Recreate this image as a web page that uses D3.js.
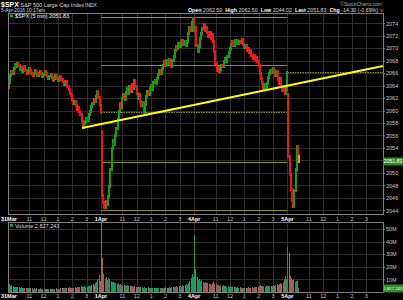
<!DOCTYPE html>
<html>
<head>
<meta charset="utf-8">
<script src="https://cdn.jsdelivr.net/npm/d3@7"></script>
<style>
  html, body { margin: 0; padding: 0; background: #000; }
  svg { display: block; font-family: "Liberation Sans", Arial, sans-serif; }
</style>
</head>
<body>
<div id="chart"></div>
<script>
// ---- data ----
var dayLabels = ["31Mar", "1Apr", "4Apr", "5Apr"];
var hourLabels = ["11", "12", "1", "2", "3"];
var dayOpens = [2063.77, 2056.62, 2073.19, 2062.50];

// 5 min closes, one array per session
var closeMar31 = [2064.5, 2065.6, 2066.3, 2066.0, 2066.8, 2067.4, 2067.0, 2067.6, 2067.2, 2066.6,
  2066.9, 2066.2, 2066.5, 2067.0, 2066.4, 2065.9, 2066.3, 2066.8, 2066.5, 2066.0,
  2065.6, 2066.0, 2066.4, 2066.1, 2065.7, 2065.9, 2066.3, 2066.0, 2065.4, 2065.8,
  2066.2, 2065.9, 2065.5, 2065.1, 2065.4, 2065.8, 2065.3, 2064.9, 2065.2, 2065.6,
  2065.2, 2064.8, 2065.1, 2065.4, 2065.0, 2064.6, 2064.1, 2064.4, 2064.6, 2063.8,
  2063.3, 2062.7, 2062.4, 2061.7, 2061.1, 2061.5, 2060.8, 2060.2, 2060.5, 2059.9,
  2059.3, 2058.3, 2057.3, 2058.0, 2058.2, 2058.8, 2058.4, 2059.3, 2059.9, 2060.6,
  2061.2, 2061.8, 2061.4, 2062.3, 2063.0, 2062.1, 2060.8, 2059.7];
var closeApr1 = [2046.3, 2045.2, 2044.5, 2045.4, 2044.9, 2046.2, 2047.8, 2050.6, 2053.9, 2055.2,
  2054.6, 2056.0, 2057.1, 2058.5, 2059.8, 2061.2, 2060.5, 2061.9, 2062.6, 2061.8,
  2062.9, 2063.5, 2062.7, 2063.8, 2063.1, 2064.2, 2063.6, 2064.8, 2063.9, 2062.8,
  2062.0, 2062.6, 2061.4, 2060.8, 2061.3, 2059.7, 2060.9, 2062.2, 2063.1, 2062.5,
  2063.6, 2064.0, 2063.4, 2064.5, 2064.9, 2064.3, 2065.2, 2065.8, 2066.4, 2065.9,
  2066.8, 2067.3, 2067.8, 2067.2, 2068.0, 2067.5, 2068.2, 2067.6, 2067.1, 2068.0,
  2068.6, 2069.6, 2070.3, 2069.9, 2070.7, 2070.2, 2070.9, 2071.2, 2070.6, 2071.0,
  2070.4, 2071.1, 2072.3, 2073.4, 2072.8, 2074.2, 2074.8, 2072.8];
var closeApr4 = [2073.4, 2070.4, 2069.5, 2070.3, 2071.5, 2072.4, 2073.1, 2073.8, 2072.9, 2073.4,
  2072.6, 2071.9, 2072.5, 2071.6, 2072.2, 2071.1, 2069.4, 2067.6, 2066.5, 2066.9,
  2066.2, 2066.6, 2067.3, 2067.0, 2067.8, 2068.3, 2067.9, 2068.7, 2069.3, 2069.9,
  2070.6, 2071.0, 2070.5, 2071.2, 2070.8, 2071.3, 2070.7, 2071.1, 2070.9, 2071.4,
  2070.6, 2070.1, 2070.5, 2069.7, 2070.0, 2069.3, 2069.6, 2068.9, 2068.4, 2068.8,
  2068.2, 2068.5, 2067.8, 2067.2, 2066.0, 2065.1, 2064.3, 2063.6, 2064.2, 2063.5,
  2064.4, 2065.3, 2065.9, 2066.5, 2066.1, 2066.8, 2066.3, 2065.6, 2066.2, 2065.0,
  2064.4, 2065.1, 2063.9, 2063.2, 2063.6, 2062.8, 2063.4, 2066.1];
var closeApr5 = [2052.6, 2049.8, 2047.4, 2045.6, 2044.6, 2047.2, 2050.5, 2054.3, 2052.6, 2051.83];

// volume per bar, millions of shares
var volMar31 = [17.5, 6.5, 4.8, 5.2, 4.5, 4.0, 4.2, 3.8, 4.1, 3.6, 3.5, 3.9, 3.2, 3.4, 3.0, 3.3, 3.1, 2.9, 3.2, 2.8,
  3.0, 2.7, 2.9, 2.6, 2.8, 2.5, 2.7, 2.9, 2.6, 2.4, 2.7, 2.5, 2.3, 2.6, 2.4, 2.2, 2.5, 2.7, 2.4, 2.6,
  2.8, 2.5, 2.3, 2.7, 2.9, 3.2, 2.8, 3.0, 3.4, 2.9, 3.3, 3.6, 3.1, 3.5, 3.0, 3.4, 3.8, 3.3, 3.7, 4.1,
  3.6, 4.4, 3.9, 4.2, 4.8, 4.3, 4.0, 4.6, 5.0, 4.5, 5.3, 6.0, 5.4, 6.8, 8.2, 10.5, 13.8, 9.0];
var volApr1 = [62, 27, 14, 10, 12, 9.5, 11, 10, 8.5, 7.8, 8.2, 6.9, 7.4, 6.5, 6.8, 5.9, 6.2, 5.5, 5.8, 5.2,
  5.6, 4.9, 5.3, 4.6, 5.0, 4.4, 4.7, 4.2, 4.5, 3.9, 4.3, 3.8, 4.1, 3.6, 3.9, 3.4, 3.7, 3.5, 3.2, 3.6,
  3.3, 3.0, 3.4, 3.1, 2.9, 3.3, 3.0, 2.8, 3.2, 2.9, 3.1, 3.4, 3.0, 3.3, 3.6, 3.2, 3.5, 3.9, 3.4, 3.8,
  4.2, 3.7, 4.1, 4.5, 4.0, 4.4, 4.9, 4.3, 5.2, 4.7, 5.6, 6.3, 5.8, 7.4, 8.6, 10.8, 14.0, 11.5];
var volApr4 = [45, 18, 12, 9.5, 10.5, 8.6, 9.2, 8.0, 7.4, 7.9, 6.8, 7.2, 6.3, 6.7, 5.9, 7.0, 8.1, 6.5, 6.0, 5.5,
  5.8, 5.1, 5.4, 4.8, 5.2, 4.6, 4.9, 4.3, 4.6, 4.1, 4.4, 3.9, 4.2, 3.7, 4.0, 3.5, 3.8, 3.4, 3.6, 3.2,
  3.5, 3.1, 3.4, 3.0, 3.3, 3.6, 3.1, 3.4, 3.8, 3.3, 3.7, 4.0, 3.6, 4.3, 4.8, 5.2, 4.6, 4.4, 4.9, 4.2,
  4.7, 5.1, 4.5, 4.9, 4.4, 5.0, 5.5, 4.8, 5.3, 6.1, 5.6, 6.4, 7.2, 6.5, 8.3, 10.2, 12.5, 10.0];
var volApr5 = [36, 31, 12.5, 11.0, 9.6, 10.4, 8.3, 9.1, 8.6, 2.83];
var volUpOverride = [234];   // 5Apr opening bar shown green in volume

var priceTicks = [2044, 2046, 2048, 2050, 2052, 2054, 2056, 2058, 2060, 2062, 2064, 2066, 2068, 2070, 2072, 2074];
var volumeTicks = [10, 20, 30, 40, 50];
var rangeLevels = [2075.07, 2067.30, 2051.75, 2043.98];  // 1Apr range quarters
var closeLevels = [{start: 78, end: 234, value: 2059.74}, {start: 234, end: 314, value: 2066.13}];
var trendLine = [[62.1, 2057.2], [313.9, 2067.15]];

// ---- build bars ----
var sessions = [closeMar31, closeApr1, closeApr4, closeApr5];
var vols = [volMar31, volApr1, volApr4, volApr5];
var bars = [];
sessions.forEach(function(closes, d) {
  closes.forEach(function(c, k) {
    var prev = k == 0 ? dayOpens[d] : closes[k - 1];
    bars.push({i: d * 78 + k, open: prev, close: c, vol: vols[d][k]});
  });
});
var lastBar = bars[bars.length - 1];

var W = 403, H = 300;
var pLeft = 7.75, pRight = 383, pTop = 13, pBottom = 214, vTop = 222, vBottom = 292;

var svg = d3.select("#chart").append("svg").attr("width", W).attr("height", H)
  .style("background", "#000");

var x = d3.scaleLinear().domain([0, 314]).range([pLeft, pRight]);
var y = d3.scaleLinear().domain([2043.4, 2075.65]).range([pBottom, pTop]);
var yv = d3.scaleLinear().domain([0, 55.5]).range([vBottom, vTop]);

// time ticks
var timeTicks = [];
dayLabels.forEach(function(lab, d) {
  timeTicks.push({slot: d * 78, label: lab, day: true});
  hourLabels.forEach(function(h, j) {
    timeTicks.push({slot: d * 78 + (1.5 + j) * 12, label: h, day: false});
  });
});

var grid = "#2e2e2e", frame = "#808080";

// grids
function vgrid(y0, y1) {
  svg.append("g").selectAll("line").data(timeTicks).enter().append("line")
    .attr("x1", function(d) { return Math.round(x(d.slot)) + 0.5; })
    .attr("x2", function(d) { return Math.round(x(d.slot)) + 0.5; })
    .attr("y1", y0).attr("y2", y1)
    .attr("stroke", grid).attr("stroke-width", 1);
}
vgrid(pTop, pBottom);
vgrid(vTop, vBottom);

svg.append("g").selectAll("line").data(priceTicks).enter().append("line")
  .attr("x1", pLeft).attr("x2", pRight)
  .attr("y1", function(d) { return Math.round(y(d)) + 0.5; })
  .attr("y2", function(d) { return Math.round(y(d)) + 0.5; })
  .attr("stroke", grid);
svg.append("g").selectAll("line").data(volumeTicks).enter().append("line")
  .attr("x1", pLeft).attr("x2", pRight)
  .attr("y1", function(d) { return Math.round(yv(d)) + 0.5; })
  .attr("y2", function(d) { return Math.round(yv(d)) + 0.5; })
  .attr("stroke", grid);

// range lines (1Apr high / low quarters) across 1Apr-4Apr
svg.append("g").selectAll("line").data(rangeLevels).enter().append("line")
  .attr("x1", x(78)).attr("x2", x(234))
  .attr("y1", function(d) { return Math.round(y(d)) + 0.5; })
  .attr("y2", function(d) { return Math.round(y(d)) + 0.5; })
  .attr("stroke", "#8f8f10").attr("stroke-width", 1);

// previous close dotted lines
svg.append("g").selectAll("line").data(closeLevels).enter().append("line")
  .attr("x1", function(d) { return x(d.start); }).attr("x2", function(d) { return x(d.end); })
  .attr("y1", function(d) { return Math.round(y(d.value)) + 0.5; })
  .attr("y2", function(d) { return Math.round(y(d.value)) + 0.5; })
  .attr("stroke", "#8f8f40").attr("stroke-dasharray", "1.5,1").attr("stroke-width", 1);

// clip
svg.append("clipPath").attr("id", "pclip").append("rect")
  .attr("x", pLeft).attr("y", pTop).attr("width", pRight - pLeft).attr("height", pBottom - pTop);
svg.append("clipPath").attr("id", "vclip").append("rect")
  .attr("x", pLeft).attr("y", vTop).attr("width", pRight - pLeft).attr("height", vBottom - vTop);

// candles (body plus a one pixel wick each side)
svg.append("g").attr("clip-path", "url(#pclip)").selectAll("rect").data(bars).enter().append("rect")
  .attr("x", function(d) { return Math.round(x(d.i)); })
  .attr("width", 2)
  .attr("y", function(d) { return y(Math.max(d.open, d.close)) - 1.5; })
  .attr("height", function(d) { return Math.abs(y(d.open) - y(d.close)) + 3; })
  .attr("fill", function(d) {
    if (d === lastBar) return "#ff8c1a";
    return d.close >= d.open ? "#13a013" : "#f01414";
  })
  .attr("shape-rendering", "crispEdges");

// trend line
svg.append("line")
  .attr("x1", x(trendLine[0][0])).attr("y1", y(trendLine[0][1]))
  .attr("x2", x(trendLine[1][0])).attr("y2", y(trendLine[1][1]))
  .attr("stroke", "#ffff00").attr("stroke-width", 2.2);

// volume bars
svg.append("g").attr("clip-path", "url(#vclip)").selectAll("rect").data(bars).enter().append("rect")
  .attr("x", function(d) { return Math.round(x(d.i)); })
  .attr("width", 1)
  .attr("y", function(d) { return yv(d.vol); })
  .attr("height", function(d) { return vBottom - yv(d.vol); })
  .attr("fill", function(d) {
    var up = d.close >= d.open || volUpOverride.indexOf(d.i) >= 0;
    return up ? "#139a5e" : "#a2605f";
  })
  .attr("shape-rendering", "crispEdges");

// frames
function frameRect(y0, y1) {
  svg.append("rect").attr("x", Math.round(pLeft) + 0.5).attr("y", y0 + 0.5)
    .attr("width", Math.round(pRight) - Math.round(pLeft)).attr("height", y1 - y0)
    .attr("fill", "none").attr("stroke", frame).attr("stroke-width", 1);
}
frameRect(pTop, pBottom);
frameRect(vTop, vBottom);

// right axes
var yAxis = d3.axisRight(y).tickValues(priceTicks).tickSize(2).tickPadding(1)
  .tickFormat(function(d) { return Math.abs(d - lastBar.close) < 1 ? "" : d; });
var ga = svg.append("g").attr("transform", "translate(" + pRight + ",0)").call(yAxis);
var yvAxis = d3.axisRight(yv).tickValues(volumeTicks).tickSize(2).tickPadding(1)
  .tickFormat(function(d) { return d + "M"; });
var gv = svg.append("g").attr("transform", "translate(" + pRight + ",0)").call(yvAxis);
[ga, gv].forEach(function(g) {
  g.select(".domain").remove();
  g.selectAll("line").attr("stroke", frame);
  g.selectAll("text").attr("fill", "#c8c8c8").style("font-size", "5.5px")
    .style("font-family", "Liberation Sans, Arial, sans-serif");
});

// time axis labels (between panels and under volume)
function timeLabels(yy) {
  svg.append("g").selectAll("text").data(timeTicks).enter().append("text")
    .attr("x", function(d) { return d.slot == 0 ? 1 : x(d.slot); })
    .attr("y", yy)
    .attr("text-anchor", function(d) { return d.slot == 0 ? "start" : "middle"; })
    .attr("fill", function(d) { return d.day ? "#ffffff" : "#c8c8c8"; })
    .style("font-weight", function(d) { return d.day ? "bold" : "normal"; })
    .style("font-size", "5.5px")
    .text(function(d) { return d.label; });
}
timeLabels(220.5);
timeLabels(298);

// last value boxes
function valueBox(yy, txt, fs) {
  svg.append("rect").attr("x", pRight).attr("y", yy - 4).attr("width", W - pRight).attr("height", 8)
    .attr("fill", "#2f8a2a");
  svg.append("text").attr("x", pRight + 0.5).attr("y", yy + 1.8).attr("fill", "#fff")
    .style("font-size", fs + "px").text(txt);
}
valueBox(y(lastBar.close), "2051.83", 5.2);
valueBox(yv(lastBar.vol), "2,827,243", 4.2);

// header
var hdr = svg.append("g").attr("fill", "#fff");
hdr.append("text").attr("x", 1).attr("y", 6.6).style("font-size", "7px").style("font-weight", "bold").text("$SPX");
hdr.append("text").attr("x", 20.5).attr("y", 6.6).attr("fill", "#ddd").style("font-size", "5.5px").text("S&P 500 Large Cap Index");
hdr.append("text").attr("x", 85).attr("y", 6.6).attr("fill", "#ddd").style("font-size", "5px").text("INDX");
hdr.append("text").attr("x", 1).attr("y", 12).attr("fill", "#ddd").style("font-size", "4.8px").text("5-Apr-2016 10:17am");
hdr.append("text").attr("x", 382).attr("y", 6).attr("text-anchor", "end").attr("fill", "#aaa")
  .style("font-size", "5px").text("\u00a9StockCharts.com");

// quote line, laid out left to right
var quote = ["Open", "2062.50", "High", "2062.50", "Low", "2044.02", "Last", "2051.83", "Chg", "-14.30 (-0.69%)"];
var qx = 188;
quote.forEach(function(q, i) {
  var t = hdr.append("text").attr("x", qx).attr("y", 11.8)
    .attr("fill", i % 2 == 0 ? "#fff" : "#ddd")
    .style("font-weight", i % 2 == 0 ? "bold" : "normal")
    .style("font-size", "5.3px").text(q);
  qx += t.node().getComputedTextLength() + (i % 2 == 0 ? 1.5 : 3);
});
svg.append("path").attr("d", "M" + (qx - 1.5) + ",9.5l4,0l-2,2.5Z").attr("fill", "#ff2020");

// legends
svg.append("rect").attr("x", 10).attr("y", 14.5).attr("width", 3).attr("height", 3).attr("fill", "#13a013");
svg.append("text").attr("x", 15).attr("y", 18.3).attr("fill", "#fff").style("font-size", "5.5px")
  .text("$SPX (5 min) 2051.83");
svg.append("rect").attr("x", 10).attr("y", 223.8).attr("width", 3).attr("height", 3).attr("fill", "#139a5e");
svg.append("text").attr("x", 15).attr("y", 227.6).attr("fill", "#ddd").style("font-size", "5.5px")
  .text("Volume 2,827,243");
</script>
</body>
</html>
